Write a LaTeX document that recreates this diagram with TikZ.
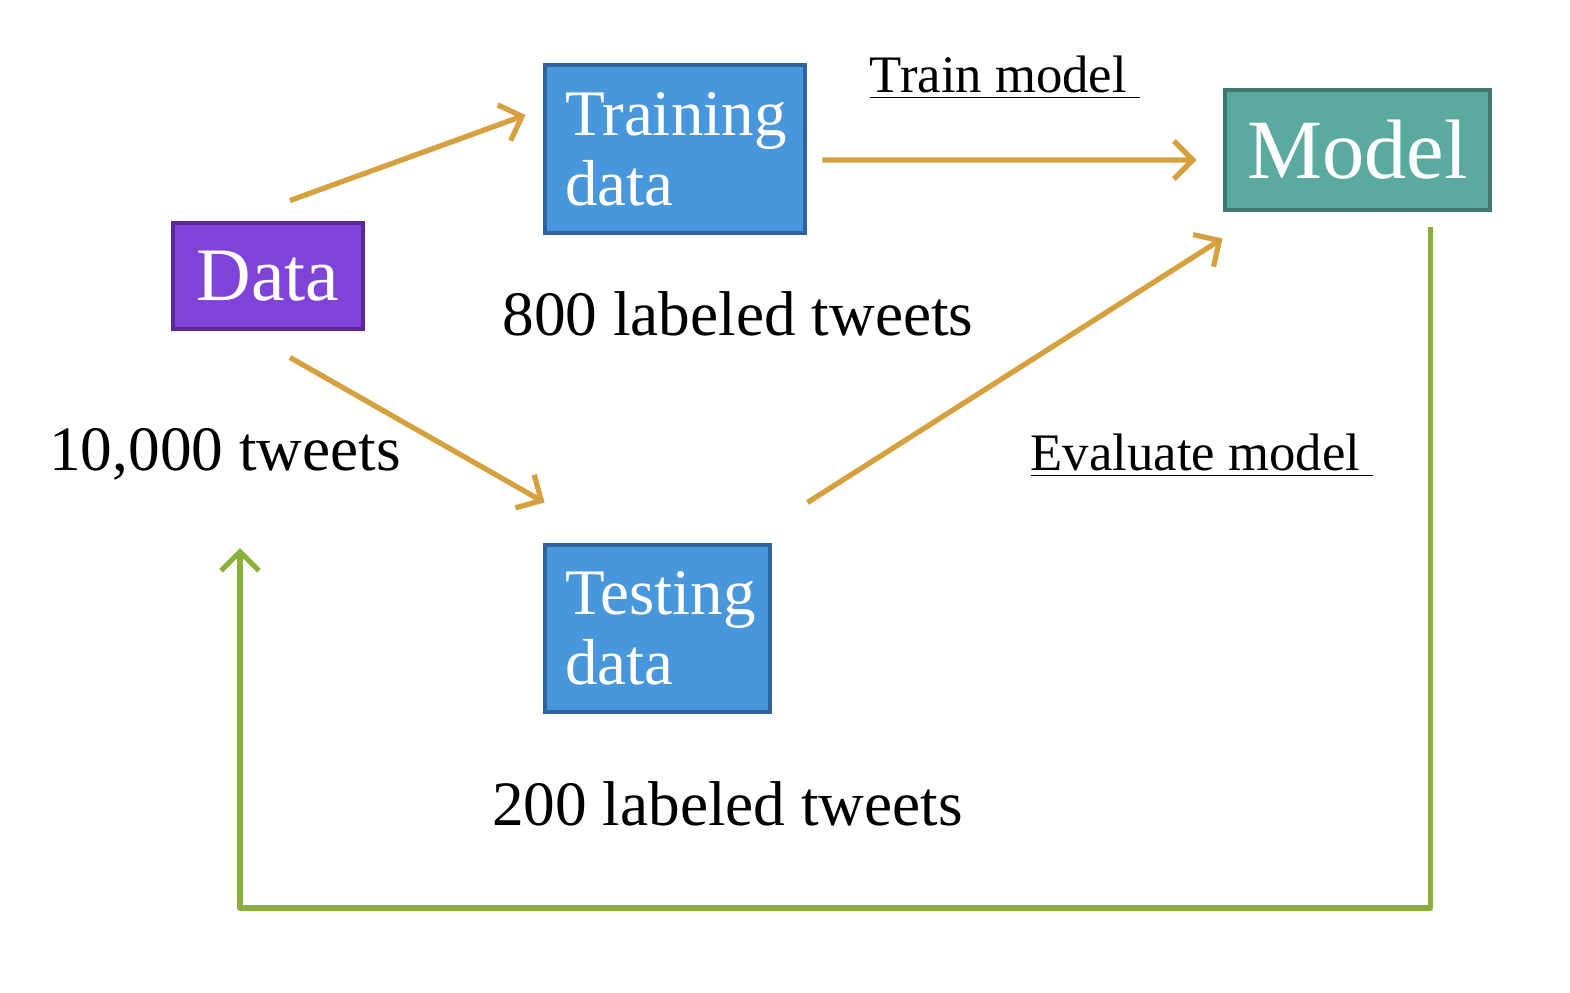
\documentclass[tikz,border=0pt]{standalone}
\usepackage{fontspec}
\setmainfont{Liberation Serif}
\usetikzlibrary{arrows.meta,calc,positioning}

\definecolor{dataPurple}{HTML}{8043D9}
\definecolor{dataPurpleLine}{HTML}{5A2B98}
\definecolor{setBlue}{HTML}{4897DC}
\definecolor{setBlueLine}{HTML}{2F64A0}
\definecolor{modelTeal}{HTML}{5AAAA0}
\definecolor{modelTealLine}{HTML}{3F7870}
\definecolor{flowOrange}{HTML}{D5A03D}
\definecolor{loopGreen}{HTML}{88B03A}

\tikzset{
    box/.style={draw, line width=1.4pt, inner sep=0pt, text=white},
    flow/.style={flowOrange, line width=1.5pt, -{Straight Barb[length=1.9mm, width=3.8mm, line width=1.5pt]}},
    loopback/.style={loopGreen, line width=1.5pt, -{Straight Barb[length=1.9mm, width=3.8mm, line width=1.5pt]}},
    caption/.style={anchor=base, font=\fontsize{18}{20}\selectfont},
    steplabel/.style={anchor=base, font=\fontsize{15}{17}\selectfont}
}

\begin{document}
\begin{tikzpicture}
    \useasboundingbox (0,0) rectangle (15.7,9.92);

    % Boxes
    \node[box, fill=dataPurple, draw=dataPurpleLine, minimum width=1.9cm, minimum height=1.06cm,
          font=\fontsize{21.5}{23}\selectfont] (data) at (2.68,7.16) {Data};
    \node[box, fill=setBlue, draw=setBlueLine, minimum width=2.6cm, minimum height=1.68cm,
          text width=2.2cm, align=left, font=\fontsize{18.5}{20}\selectfont] (train) at (6.75,8.43) {Training\\data};
    \node[box, fill=setBlue, draw=setBlueLine, minimum width=2.25cm, minimum height=1.67cm,
          text width=1.85cm, align=left, font=\fontsize{18.5}{20}\selectfont] (test) at (6.575,3.635) {Testing\\data};
    \node[box, fill=modelTeal, draw=modelTealLine, minimum width=2.65cm, minimum height=1.2cm,
          font=\fontsize{24}{26}\selectfont] (model) at (13.575,8.42) {Model};

    % Texts
    \node[caption] (tweets) at (2.25,5.22) {10,000 tweets};
    \node[caption] (n800) at (7.38,6.57) {800 labeled tweets};
    \node[caption] (n200) at (7.275,1.67) {200 labeled tweets};
    \node[steplabel] (trainlbl) at (10.05,9.0) {\underline{Train model\ }};
    \node[steplabel] (evallbl) at (12.02,5.22) {\underline{Evaluate model\ }};

    % Arrows
    \draw[flow] ($(data.north)+(0.22,0.2)$) -- ($(train.west)+(-0.17,0.34)$);
    \draw[flow] ($(data.south)+(0.22,-0.26)$) -- ($(test.north west)+(0.02,0.4)$);
    \draw[flow] ($(train.east)+(0.15,-0.11)$) -- ($(model.west)+(-0.26,-0.1)$);
    \draw[flow] ($(test.north east)+(0.35,0.4)$) -- ($(model.south west)+(0,-0.26)$);

    % Feedback loop
    \coordinate (back) at (2.4,0.84);
    \coordinate (ret) at (2.4,4.44);
    \draw[loopback, line join=round] ($(model.south east)+(-0.62,-0.15)$) |- (back) -- (ret);
\end{tikzpicture}
\end{document}
